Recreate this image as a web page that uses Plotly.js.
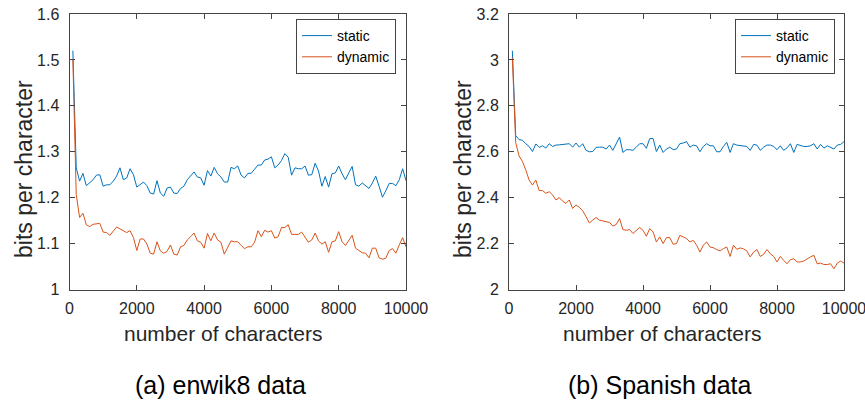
<!DOCTYPE html>
<html>
<head>
<meta charset="utf-8">
<script src="https://cdn.plot.ly/plotly-3.0.1.min.js"></script>
<style>
html,body{margin:0;padding:0;background:#fff;}
#chart{width:865px;height:405px;}
</style>
</head>
<body>
<div id="chart"></div>
<script>
// number of characters (x)
var chars = [100,200,300,400,500,600,700,800,900,1000,
1100,1200,1300,1400,1500,1600,1700,1800,1900,2000,
2100,2200,2300,2400,2500,2600,2700,2800,2900,3000,
3100,3200,3300,3400,3500,3600,3700,3800,3900,4000,
4100,4200,4300,4400,4500,4600,4700,4800,4900,5000,
5100,5200,5300,5400,5500,5600,5700,5800,5900,6000,
6100,6200,6300,6400,6500,6600,6700,6800,6900,7000,
7100,7200,7300,7400,7500,7600,7700,7800,7900,8000,
8100,8200,8300,8400,8500,8600,8700,8800,8900,9000,
9100,9200,9300,9400,9500,9600,9700,9800,9900,10000];

// (a) enwik8 data
var enwikStatic = [1.52,1.265,1.236,1.253,1.226,1.232,1.239,1.249,1.25,1.225,
1.228,1.228,1.236,1.247,1.265,1.239,1.243,1.263,1.25,1.223,
1.228,1.234,1.226,1.21,1.208,1.237,1.21,1.203,1.221,1.223,
1.21,1.209,1.22,1.225,1.239,1.247,1.256,1.245,1.243,1.227,
1.259,1.247,1.266,1.252,1.245,1.234,1.234,1.266,1.263,1.269,
1.249,1.243,1.253,1.253,1.261,1.271,1.271,1.282,1.284,1.289,
1.265,1.271,1.281,1.296,1.288,1.249,1.265,1.263,1.263,1.269,
1.249,1.25,1.275,1.258,1.225,1.246,1.223,1.252,1.254,1.269,
1.252,1.239,1.254,1.268,1.228,1.225,1.232,1.225,1.22,1.232,
1.247,1.225,1.201,1.215,1.231,1.231,1.226,1.239,1.263,1.237];

var enwikDynamic = [1.50,1.207,1.157,1.166,1.141,1.137,1.142,1.143,1.144,1.125,
1.124,1.118,1.126,1.136,1.132,1.128,1.124,1.128,1.113,1.085,
1.11,1.11,1.099,1.079,1.077,1.104,1.084,1.079,1.083,1.097,
1.077,1.075,1.093,1.096,1.108,1.115,1.123,1.106,1.103,1.09,
1.122,1.106,1.123,1.108,1.103,1.077,1.093,1.106,1.104,1.104,
1.096,1.089,1.093,1.093,1.103,1.128,1.115,1.129,1.125,1.128,
1.112,1.115,1.135,1.135,1.141,1.12,1.12,1.12,1.125,1.113,
1.103,1.108,1.123,1.106,1.099,1.104,1.081,1.104,1.106,1.126,
1.104,1.096,1.108,1.118,1.09,1.085,1.08,1.079,1.069,1.09,
1.09,1.069,1.066,1.068,1.085,1.089,1.079,1.097,1.113,1.093];

// (b) Spanish data
var spanishStatic = [3.04,2.67,2.653,2.65,2.635,2.623,2.601,2.634,2.619,2.626,
2.616,2.635,2.623,2.629,2.63,2.632,2.634,2.635,2.62,2.638,
2.62,2.635,2.606,2.6,2.601,2.619,2.62,2.62,2.612,2.629,
2.606,2.638,2.664,2.597,2.609,2.609,2.606,2.62,2.635,2.635,
2.615,2.657,2.658,2.601,2.629,2.597,2.612,2.62,2.609,2.612,
2.635,2.638,2.644,2.62,2.629,2.626,2.6,2.623,2.635,2.626,
2.626,2.6,2.6,2.623,2.641,2.597,2.635,2.629,2.626,2.626,
2.623,2.606,2.632,2.629,2.606,2.62,2.629,2.629,2.623,2.609,
2.626,2.606,2.617,2.635,2.597,2.632,2.626,2.623,2.623,2.626,
2.635,2.612,2.632,2.616,2.626,2.62,2.612,2.629,2.632,2.644];

var spanishDynamic = [3.01,2.64,2.582,2.558,2.521,2.477,2.455,2.477,2.431,2.431,
2.419,2.426,2.412,2.39,2.4,2.385,2.375,2.39,2.353,2.368,
2.358,2.343,2.317,2.29,2.302,2.314,2.302,2.299,2.298,2.292,
2.276,2.283,2.309,2.261,2.258,2.261,2.244,2.255,2.27,2.258,
2.232,2.265,2.251,2.207,2.229,2.2,2.226,2.226,2.197,2.2,
2.236,2.229,2.222,2.207,2.214,2.193,2.163,2.193,2.207,2.185,
2.182,2.174,2.168,2.178,2.185,2.144,2.193,2.175,2.181,2.177,
2.168,2.142,2.163,2.174,2.144,2.153,2.174,2.156,2.144,2.12,
2.144,2.127,2.112,2.13,2.134,2.12,2.12,2.124,2.134,2.142,
2.149,2.112,2.115,2.109,2.109,2.112,2.09,2.115,2.124,2.115];

// tick labels
var xTickVals = [0,2000,4000,6000,8000,10000];
var xTickText = ['0','2000','4000','6000','8000','10000'];
var yTickValsA = [1,1.1,1.2,1.3,1.4,1.5,1.6];
var yTickTextA = ['1','1.1','1.2','1.3','1.4','1.5','1.6'];
var yTickValsB = [2,2.2,2.4,2.6,2.8,3,3.2];
var yTickTextB = ['2','2.2','2.4','2.6','2.8','3','3.2'];

var seriesNames = ['static','dynamic'];
var xTitle = 'number of characters';
var yTitle = 'bits per character';
var captions = ['(a) enwik8 data','(b) Spanish data'];

var BLUE = '#0072BD', ORANGE = '#D95319';
var AX = '#444444';
var FONT = 'Liberation Sans, Arial, Helvetica, sans-serif';

var traces = [
  {x: chars, y: enwikStatic, name: seriesNames[0], type: 'scatter', mode: 'lines',
   line: {color: BLUE, width: 1}, xaxis: 'x', yaxis: 'y', legend: 'legend'},
  {x: chars, y: enwikDynamic, name: seriesNames[1], type: 'scatter', mode: 'lines',
   line: {color: ORANGE, width: 1}, xaxis: 'x', yaxis: 'y', legend: 'legend'},
  {x: chars, y: spanishStatic, name: seriesNames[0], type: 'scatter', mode: 'lines',
   line: {color: BLUE, width: 1}, xaxis: 'x2', yaxis: 'y2', legend: 'legend2'},
  {x: chars, y: spanishDynamic, name: seriesNames[1], type: 'scatter', mode: 'lines',
   line: {color: ORANGE, width: 1}, xaxis: 'x2', yaxis: 'y2', legend: 'legend2'}
];

function xax(domain, anchor) {
  return {domain: domain, anchor: anchor, range: [0, 10000], tickvals: xTickVals, ticktext: xTickText,
    ticks: 'inside', ticklen: 5, tickwidth: 1, tickcolor: AX, showline: true, linecolor: AX, linewidth: 1,
    mirror: 'ticks', showgrid: false, zeroline: false, tickfont: {size: 16, color: '#262626', family: FONT},
    ticklabelstandoff: 4, ticklabeloverflow: 'allow'};
}
function yax(domain, anchor, vals, text, rng) {
  return {domain: domain, anchor: anchor, range: rng, tickvals: vals, ticktext: text,
    ticks: 'inside', ticklen: 5, tickwidth: 1, tickcolor: AX, showline: true, linecolor: AX, linewidth: 1,
    mirror: 'ticks', showgrid: false, zeroline: false, tickfont: {size: 16, color: '#262626', family: FONT},
    ticklabelstandoff: 6, ticklabeloverflow: 'allow'};
}

var W = 865, H = 405;
var yDom = [(H - 289.5) / H, (H - 14) / H];

var legendCommon = {font: {size: 14, color: '#000', family: FONT}, bgcolor: '#fff', bordercolor: AX,
  borderwidth: 1, xanchor: 'right', yanchor: 'top', tracegroupgap: 0, itemwidth: 30};

var layout = {
  width: W, height: H,
  margin: {l: 0, r: 0, t: 0, b: 0},
  paper_bgcolor: '#fff', plot_bgcolor: '#fff',
  font: {family: FONT, color: '#262626'},
  xaxis: xax([69.5 / W, 406 / W], 'y'),
  yaxis: yax(yDom, 'x', yTickValsA, yTickTextA, [1, 1.6]),
  xaxis2: xax([509 / W, 844 / W], 'y2'),
  yaxis2: yax(yDom, 'x2', yTickValsB, yTickTextB, [2, 3.2]),
  legend: Object.assign({x: 396 / W, y: (H - 19) / H}, legendCommon),
  legend2: Object.assign({x: 835 / W, y: (H - 19) / H}, legendCommon),
  annotations: [
    {text: xTitle, xref: 'paper', yref: 'paper', x: 223 / W, y: (H - 333) / H, xanchor: 'center', yanchor: 'middle',
     showarrow: false, font: {size: 21, color: '#262626', family: FONT}},
    {text: xTitle, xref: 'paper', yref: 'paper', x: 662 / W, y: (H - 333) / H, xanchor: 'center', yanchor: 'middle',
     showarrow: false, font: {size: 21, color: '#262626', family: FONT}},
    {text: yTitle, xref: 'paper', yref: 'paper', x: 24 / W, y: (H - 169) / H, xanchor: 'center', yanchor: 'middle',
     textangle: -90, showarrow: false, font: {size: 23, color: '#262626', family: FONT}},
    {text: yTitle, xref: 'paper', yref: 'paper', x: 463 / W, y: (H - 169) / H, xanchor: 'center', yanchor: 'middle',
     textangle: -90, showarrow: false, font: {size: 23, color: '#262626', family: FONT}},
    {text: captions[0], xref: 'paper', yref: 'paper', x: 220 / W, y: (H - 385) / H, xanchor: 'center', yanchor: 'middle',
     showarrow: false, font: {size: 25, color: '#000', family: FONT}},
    {text: captions[1], xref: 'paper', yref: 'paper', x: 660 / W, y: (H - 385) / H, xanchor: 'center', yanchor: 'middle',
     showarrow: false, font: {size: 25, color: '#000', family: FONT}}
  ]
};

Plotly.newPlot('chart', traces, layout, {staticPlot: true, displayModeBar: false});
</script>
</body>
</html>
